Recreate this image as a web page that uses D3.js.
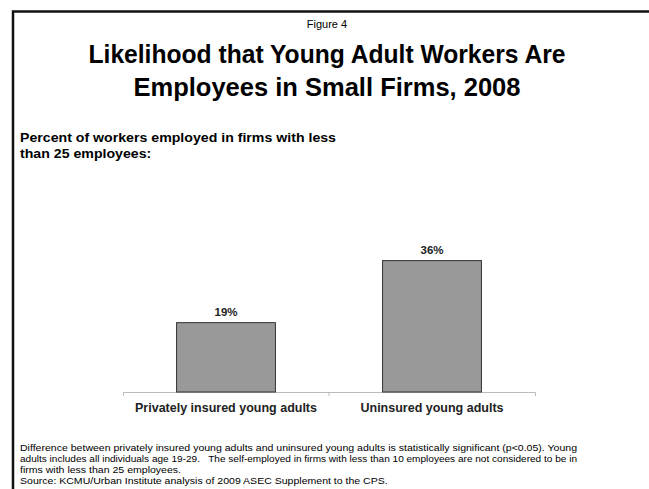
<!DOCTYPE html>
<html>
<head>
<meta charset="utf-8">
<script src="https://cdn.jsdelivr.net/npm/d3@7"></script>
<style>
  body { margin: 0; background: #fff; }
  svg text { font-family: "Liberation Sans", Arial, sans-serif; white-space: pre; }
</style>
</head>
<body>
<svg id="chart" width="649" height="489"></svg>
<script>
var categories = ["Privately insured young adults", "Uninsured young adults"];
var values = [19, 36];
var valueLabels = ["19%", "36%"];
var titleLines = ["Likelihood that Young Adult Workers Are", "Employees in Small Firms, 2008"];
var subtitleLines = ["Percent of workers employed in firms with less", "than 25 employees:"];
var noteLines = [
    "Difference between privately insured young adults and uninsured young adults is statistically significant (p<0.05). Young",
    "adults includes all individuals age 19-29.   The self-employed in firms with less than 10 employees are not considered to be in",
    "firms with less than 25 employees.",
    "Source: KCMU/Urban Institute analysis of 2009 ASEC Supplement to the CPS."
];

var svg = d3.select("#chart");

// the slide is a bit stretched sideways: scale a block of lines by the same factor,
// lines listed in "full" are pinned to exactly w
function fitBlock(sel, w, full) {
    var k = w / sel.node().getComputedTextLength();
    sel.each(function(d, i) {
        var len = (full && full.indexOf(i) >= 0) ? w : this.getComputedTextLength() * k;
        d3.select(this).attr("textLength", len).attr("lengthAdjust", "spacingAndGlyphs");
    });
}

// frame (top and left edges only)
svg.append("path")
    .attr("d", "M13,489 L13,11.5 L649,11.5")
    .attr("fill", "none")
    .attr("stroke", "#111")
    .attr("stroke-width", 2.5);

svg.append("text")
    .attr("x", 327).attr("y", 28)
    .attr("text-anchor", "middle")
    .attr("font-size", 11)
    .text("Figure 4");

var titleW = [477, 387];
svg.selectAll(".title")
    .data(titleLines)
    .enter().append("text")
        .attr("class", "title")
        .attr("x", 327)
        .attr("y", function(d, i) { return 63 + i * 33; })
        .attr("text-anchor", "middle")
        .attr("font-size", 25)
        .attr("font-weight", "bold")
        .text(function(d) { return d; })
        .attr("textLength", function(d, i) { return titleW[i]; })
        .attr("lengthAdjust", "spacingAndGlyphs");

var sub = svg.selectAll(".subtitle")
    .data(subtitleLines)
    .enter().append("text")
        .attr("class", "subtitle")
        .attr("x", 20)
        .attr("y", function(d, i) { return 142 + i * 16; })
        .attr("font-size", 12.6)
        .attr("font-weight", "bold")
        .text(function(d) { return d; });
fitBlock(sub, 316);

// chart area
var margin = {top: 240, left: 123, right: 114, bottom: 97},
    width = +svg.attr("width") - margin.left - margin.right,
    height = +svg.attr("height") - margin.top - margin.bottom,
    g = svg.append("g").attr("transform", "translate(" + margin.left + "," + margin.top + ")");

var x = d3.scaleBand()
    .domain(categories)
    .range([0, width])
    .paddingInner(0.52)
    .paddingOuter(0.26);

var y = d3.scaleLinear()
    .domain([0, 40])
    .range([height, height - 146]);

var axis = g.append("g")
    .attr("transform", "translate(0," + height + ")")
    .call(d3.axisBottom(x).tickSize(4).tickFormat(""));
axis.select(".domain").attr("stroke", "#bbb").attr("d", "M0.5,4V0.5H" + (width + 0.5) + "V4");
axis.selectAll(".tick line").remove();
axis.append("line")
    .attr("x1", width / 2).attr("x2", width / 2)
    .attr("y1", 0).attr("y2", 4)
    .attr("stroke", "#bbb");

g.selectAll(".bar")
    .data(values)
    .enter().append("rect")
        .attr("class", "bar")
        .attr("x", function(d, i) { return x(categories[i]); })
        .attr("width", x.bandwidth())
        .attr("y", function(d) { return y(d); })
        .attr("height", function(d) { return height - y(d); })
        .attr("fill", "#999999")
        .attr("stroke", "#333")
        .attr("stroke-width", 1);

g.selectAll(".val")
    .data(values)
    .enter().append("text")
        .attr("class", "val")
        .attr("x", function(d, i) { return x(categories[i]) + x.bandwidth() / 2; })
        .attr("y", function(d) { return y(d) - 7; })
        .attr("text-anchor", "middle")
        .attr("font-size", 11.5)
        .attr("font-weight", "bold")
        .attr("fill", "#222")
        .text(function(d, i) { return valueLabels[i]; });

g.selectAll(".cat")
    .data(categories)
    .enter().append("text")
        .attr("class", "cat")
        .attr("x", function(d) { return x(d) + x.bandwidth() / 2; })
        .attr("y", height + 20)
        .attr("text-anchor", "middle")
        .attr("font-size", 12.5)
        .attr("font-weight", "bold")
        .attr("fill", "#222")
        .text(function(d) { return d; });

var notes = svg.selectAll(".note")
    .data(noteLines)
    .enter().append("text")
        .attr("class", "note")
        .attr("x", 20)
        .attr("y", function(d, i) { return 451 + i * 11; })
        .attr("font-size", 9.5)
        .text(function(d) { return d; });
fitBlock(notes, 557, [0, 1]);
</script>
</body>
</html>
